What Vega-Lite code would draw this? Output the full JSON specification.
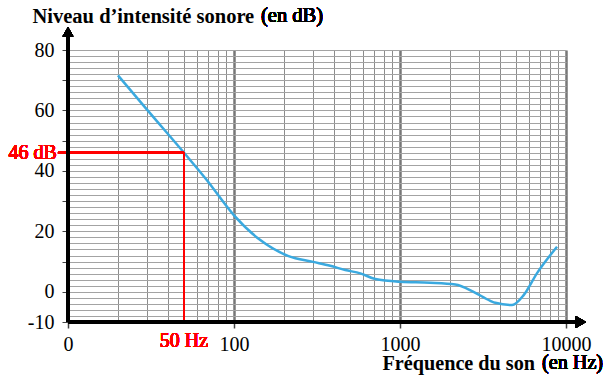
{
  "$schema": "https://vega.github.io/schema/vega-lite/v6.json",
  "width": 498,
  "height": 272,
  "autosize": "none",
  "padding": {"left": 68, "top": 50, "right": 39, "bottom": 59},
  "config": {
    "font": "Liberation Serif",
    "view": {"stroke": null},
    "axis": {"labelFont": "Liberation Serif", "titleFont": "Liberation Serif", "labelColor": "black", "titleColor": "black", "labelFontWeight": "normal"},
    "text": {"font": "Liberation Serif", "fontWeight": "normal"}
  },
  "data": {
    "values": [
      {"f": 20, "db": 71.6},
      {"f": 30, "db": 60.2},
      {"f": 50, "db": 46.0},
      {"f": 68.7, "db": 36.9},
      {"f": 100, "db": 25.3},
      {"f": 144, "db": 17.1},
      {"f": 213, "db": 11.8},
      {"f": 300, "db": 9.9},
      {"f": 380, "db": 8.6},
      {"f": 468, "db": 7.2},
      {"f": 577, "db": 6.1},
      {"f": 710, "db": 4.2},
      {"f": 1004, "db": 3.3},
      {"f": 1515, "db": 3.0},
      {"f": 2153, "db": 2.4},
      {"f": 2773, "db": 0.0},
      {"f": 3500, "db": -3.0},
      {"f": 3750, "db": -3.65},
      {"f": 4730, "db": -4.4},
      {"f": 5560, "db": -1.1},
      {"f": 6680, "db": 6.1},
      {"f": 8830, "db": 14.9}
    ]
  },
  "resolve": {"axis": {"x": "independent", "y": "independent"}},
  "layer": [
    {
      "mark": {"type": "line", "strokeOpacity": 0},
      "encoding": {
        "x": {"field": "f", "type": "quantitative",
          "scale": {"type": "log", "domain": [10, 10000], "nice": false},
          "axis": {"orient": "bottom", "values": [20,30,40,50,60,70,80,90,200,300,400,500,600,700,800,900,2000,3000,4000,5000,6000,7000,8000,9000],
            "grid": true, "gridColor": "#8c8c8c", "gridWidth": 1, "gridOpacity": 1, "labels": false, "ticks": false, "domain": false, "title": null}},
        "y": {"field": "db", "type": "quantitative",
          "scale": {"domain": [-10, 80], "nice": false, "zero": false},
          "axis": {"orient": "left", "values": [-8,-6,-4,-2,0,2,4,6,8,10,12,14,16,18,20,22,24,26,28,30,32,34,36,38,40,42,44,46,48,50,52,54,56,58,60,62,64,66,68,70,72,74,76,78,80],
            "grid": true, "gridColor": "#a3a3a3", "gridWidth": 1, "gridOpacity": 1, "labels": false, "ticks": false, "domain": false, "title": null}}
      }
    },
    {
      "mark": {"type": "line", "color": "#3aa9df", "strokeWidth": 2.5, "interpolate": "monotone"},
      "encoding": {
        "x": {"field": "f", "type": "quantitative",
          "axis": {"orient": "bottom", "values": [10, 100, 1000, 10000], "format": "d",
            "labelExpr": "datum.value == 10 ? '0' : datum.label",
            "grid": true, "gridColor": "#777777", "gridWidth": 2.5, "gridOpacity": 1,
            "domain": false, "ticks": true, "tickSize": 6, "tickColor": "#444444", "tickWidth": 1.5,
            "labelFont": "Liberation Serif", "labelFontSize": 20, "labelPadding": 6, "labelOverlap": false, "labelFlush": false, "labelBound": false,
            "title": "Fréquence du son", "titleFont": "Liberation Serif", "titleFontSize": 20.2, "titleFontWeight": "bold",
            "titleAngle": 0, "titleAlign": "left", "titleBaseline": "alphabetic", "titleX": 314, "titleY": 47}},
        "y": {"field": "db", "type": "quantitative",
          "axis": {"orient": "left", "values": [-10, 0, 10, 20, 30, 40, 50, 60, 70, 80],
            "labelExpr": "datum.value == -10 ? '-10' : (datum.value % 20 == 0 ? datum.label : '')",
            "grid": false, "domain": false, "ticks": true, "tickSize": 6, "tickColor": "#444444", "tickWidth": 1,
            "labelFont": "Liberation Serif", "labelFontSize": 20, "labelPadding": 8, "labelOverlap": false, "labelBound": false,
            "title": "Niveau d’intensité sonore", "titleFont": "Liberation Serif", "titleFontSize": 20.5, "titleFontWeight": "bold",
            "titleAngle": 0, "titleAlign": "left", "titleBaseline": "alphabetic", "titleX": -36, "titleY": -28}}
      }
    },
    {
      "mark": {"type": "rule", "color": "#ff0000", "strokeWidth": 2},
      "encoding": {
        "x": {"datum": 8.7, "type": "quantitative", "axis": null},
        "x2": {"datum": 50},
        "y": {"datum": 46, "type": "quantitative", "axis": null}
      }
    },
    {
      "mark": {"type": "rule", "color": "#ff0000", "strokeWidth": 2},
      "encoding": {
        "x": {"datum": 50, "type": "quantitative", "axis": null},
        "y": {"datum": 46, "type": "quantitative", "axis": null},
        "y2": {"datum": -10}
      }
    },
    {
      "mark": {"type": "rule", "color": "black", "strokeWidth": 2.5},
      "encoding": {
        "x": {"datum": 10, "type": "quantitative", "axis": null},
        "y": {"datum": -10, "type": "quantitative", "axis": null},
        "y2": {"datum": 84.5}
      }
    },
    {
      "mark": {"type": "rule", "color": "black", "strokeWidth": 2.5},
      "encoding": {
        "x": {"datum": 10, "type": "quantitative", "axis": null},
        "x2": {"datum": 11700},
        "y": {"datum": -10, "type": "quantitative", "axis": null}
      }
    },
    {
      "mark": {"type": "point", "shape": "triangle-up", "filled": true, "color": "black", "size": 115, "opacity": 1},
      "encoding": {
        "x": {"datum": 10, "type": "quantitative", "axis": null},
        "y": {"datum": 86.1, "type": "quantitative", "axis": null}
      }
    },
    {
      "mark": {"type": "point", "shape": "triangle-right", "filled": true, "color": "black", "size": 140, "opacity": 1},
      "encoding": {
        "x": {"datum": 12300, "type": "quantitative", "axis": null},
        "y": {"datum": -10, "type": "quantitative", "axis": null}
      }
    },
    {
      "mark": {"type": "text", "text": "46 dB", "color": "#ff0000", "font": "Liberation Serif", "fontWeight": "normal", "fontSize": 20, "align": "right", "baseline": "middle", "dx": -1},
      "encoding": {
        "x": {"datum": 8.7, "type": "quantitative", "axis": null},
        "y": {"datum": 46, "type": "quantitative", "axis": null}
      }
    },
    {
      "mark": {"type": "text", "text": "50 Hz", "color": "#ff0000", "font": "Liberation Serif", "fontWeight": "normal", "fontSize": 20, "align": "center", "baseline": "alphabetic", "dy": 24.5},
      "encoding": {
        "x": {"datum": 50, "type": "quantitative", "axis": null},
        "y": {"datum": -10, "type": "quantitative", "axis": null}
      }
    },
    {
      "mark": {"type": "text", "text": "(en dB)", "color": "black", "font": "Liberation Serif", "fontWeight": "normal", "fontSize": 20.5, "align": "left", "baseline": "alphabetic", "dx": 193, "dy": -28},
      "encoding": {
        "x": {"datum": 10, "type": "quantitative", "axis": null},
        "y": {"datum": 80, "type": "quantitative", "axis": null}
      }
    },
    {
      "mark": {"type": "text", "text": "(en Hz)", "color": "black", "font": "Liberation Serif", "fontWeight": "normal", "fontSize": 20.2, "align": "left", "baseline": "alphabetic", "dx": 474, "dy": 47},
      "encoding": {
        "x": {"datum": 10, "type": "quantitative", "axis": null},
        "y": {"datum": -10, "type": "quantitative", "axis": null}
      }
    }
  ]
}
